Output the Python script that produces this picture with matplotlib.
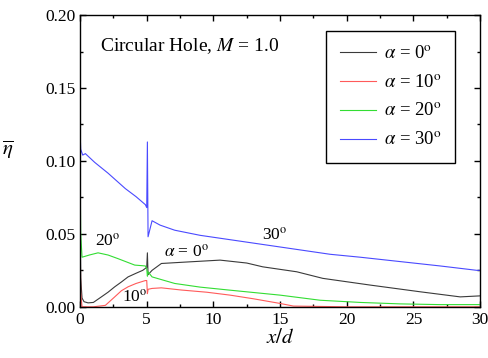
"""
Laterally averaged film cooling effectiveness, circular hole, M = 1.0.
"""

import matplotlib
matplotlib.use('Agg')
import matplotlib.pyplot as plt
from matplotlib.ticker import MultipleLocator

# --- data ---------------------------------------------------------------
x_0 = [0, 0.05, 0.15, 0.3, 0.6, 1.0, 1.6, 2.1, 2.6, 3.1, 3.6, 4.2, 4.7, 5.0,
       5.05, 5.1, 5.4, 6.1, 7.6, 10.5, 12.5, 13.7, 16.25, 18.2, 21.75, 25.5,
       28.5, 30]
eta_0 = [0.065, 0.02, 0.006, 0.0035, 0.0027, 0.003, 0.0068, 0.010, 0.0137,
         0.017, 0.0205, 0.023, 0.025, 0.027, 0.037, 0.022, 0.025, 0.0297,
         0.0305, 0.032, 0.030, 0.0274, 0.024, 0.0195, 0.0149, 0.0103, 0.0068,
         0.0075]

x_10 = [0, 0.05, 0.15, 0.5, 1.0, 1.9, 2.6, 3.1, 3.6, 4.2, 4.9, 5.0, 5.05,
        5.1, 5.4, 6.1, 7.6, 9.5, 11.25, 13, 15, 16, 20, 25, 30]
eta_10 = [0.06, 0.01, 0.0, 0.0, 0.0, 0.001, 0.0068, 0.011, 0.0137, 0.016,
          0.018, 0.018, 0.009, 0.012, 0.0126, 0.013, 0.0115, 0.010, 0.008,
          0.0055, 0.0023, 0.0005, 0.0, 0.0, 0.0]

x_20 = [0, 0.05, 0.15, 0.7, 1.35, 2.1, 2.85, 4.1, 4.9, 5.0, 5.05, 5.1, 5.4,
        7.1, 9, 11.25, 15, 18, 21, 24, 27, 30]
eta_20 = [0.10, 0.05, 0.034, 0.0355, 0.037, 0.0355, 0.033, 0.0286, 0.028,
          0.026, 0.021, 0.024, 0.0205, 0.016, 0.0135, 0.0114, 0.008, 0.0045,
          0.003, 0.002, 0.0015, 0.0015]

x_30 = [0, 0.05, 0.2, 0.4, 1.1, 2.1, 3.4, 4.2, 4.9, 5.0, 5.05, 5.1, 5.4,
        6.0, 7.1, 9, 11.25, 15, 18.75, 21, 24, 27, 29.75, 30]
eta_30 = [0.121, 0.108, 0.104, 0.105, 0.099, 0.0916, 0.081, 0.0755, 0.070,
          0.068, 0.113, 0.048, 0.059, 0.056, 0.0525, 0.049, 0.046, 0.041,
          0.036, 0.034, 0.031, 0.028, 0.025, 0.025]

series = [
    (x_0, eta_0, r'$\alpha$ = 0$^{\rm o}$', '#3a3a3a'),
    (x_10, eta_10, r'$\alpha$ = 10$^{\rm o}$', '#ff5a5a'),
    (x_20, eta_20, r'$\alpha$ = 20$^{\rm o}$', '#33dd33'),
    (x_30, eta_30, r'$\alpha$ = 30$^{\rm o}$', '#4a4aff'),
]

plt.rcParams['font.family'] = ['Liberation Serif', 'DejaVu Serif']
plt.rcParams['mathtext.fontset'] = 'stix'

fig = plt.figure(figsize=(4.88, 3.58), dpi=100)
ax = fig.add_axes([0.164, 0.143, 0.820, 0.815])

for xs, ys, label, color in series:
    ax.plot(xs, ys, color=color, lw=0.8, label=label)

ax.set_xlim(0, 30)
ax.set_ylim(0, 0.20)
ax.xaxis.set_major_locator(MultipleLocator(5))
ax.xaxis.set_minor_locator(MultipleLocator(2.5))
ax.yaxis.set_major_locator(MultipleLocator(0.05))
ax.yaxis.set_minor_locator(MultipleLocator(0.025))
ax.yaxis.set_major_formatter(lambda v, pos: f'{v:.2f}')
ax.tick_params(which='both', direction='in', top=True, right=True,
               labelsize=12.5, width=1)
ax.tick_params(which='major', length=4)
ax.tick_params(which='minor', length=2.5)
for sp in ax.spines.values():
    sp.set_linewidth(1)

ax.set_xlabel(r'$x/d$', fontsize=15, labelpad=1)
ax.set_ylabel(r'$\overline{\eta}$', fontsize=15, rotation=0)
ax.yaxis.set_label_coords(-0.18, 0.5)

ax.text(1.5, 0.179, r'Circular Hole, $M$ = 1.0', fontsize=14, va='center')
ax.text(2.1, 0.045, r'20$^{\rm o}$', fontsize=12.5, ha='center', va='center')
ax.text(4.1, 0.0066, r'10$^{\rm o}$', fontsize=12.5, ha='center', va='center')
ax.text(8.0, 0.0375, r'$\alpha$ = 0$^{\rm o}$', fontsize=12.5, ha='center',
        va='center')
ax.text(14.6, 0.049, r'30$^{\rm o}$', fontsize=12.5, ha='center', va='center')

leg = ax.legend(loc='upper right', bbox_to_anchor=(0.9375, 0.944),
                fontsize=13.5, fancybox=False, framealpha=1,
                edgecolor='black', handlelength=1.9, handletextpad=0.4,
                borderpad=0.75, labelspacing=0.6, borderaxespad=0)
leg.get_frame().set_linewidth(1)

fig.savefig('out.png', dpi=100)
